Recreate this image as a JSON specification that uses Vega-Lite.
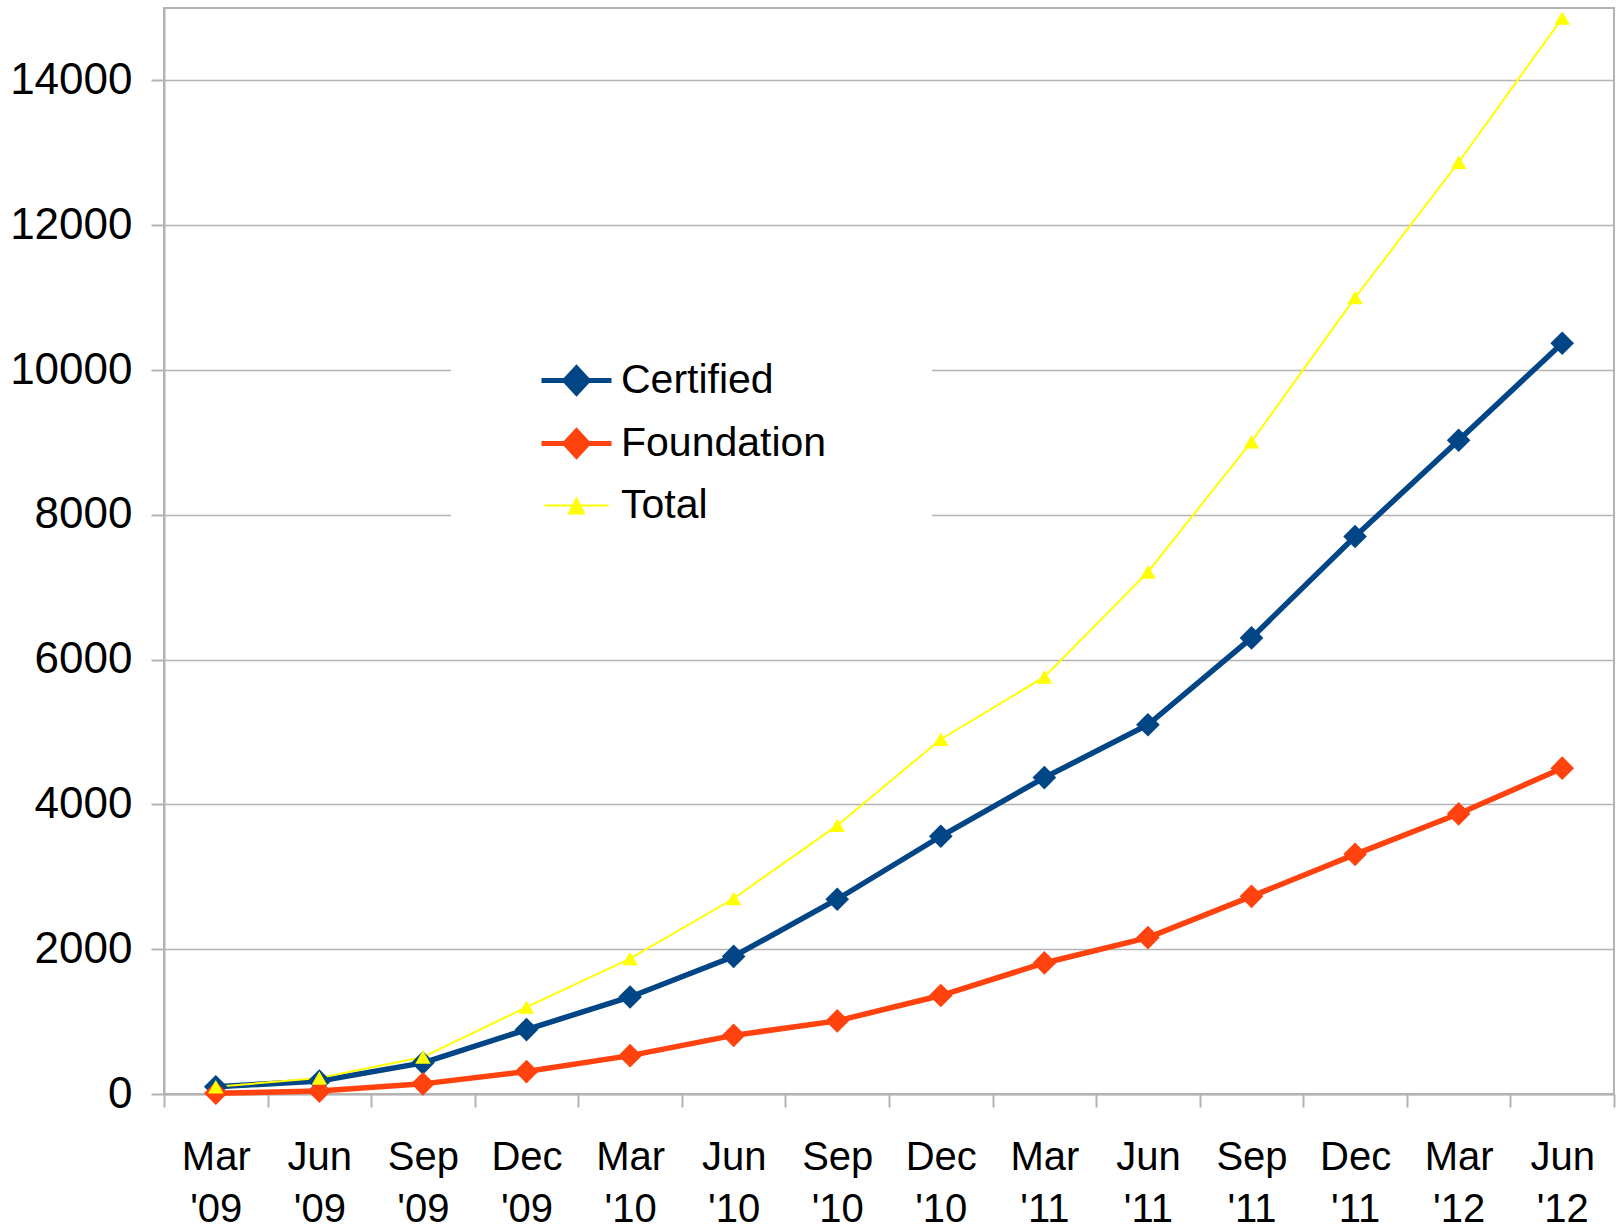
{
  "$schema": "https://vega.github.io/schema/vega-lite/v6.json",
  "width": 1450,
  "height": 1086,
  "autosize": {"type": "none"},
  "padding": {"left": 164, "top": 8, "right": 7, "bottom": 136},
  "background": "white",
  "config": {
    "view": {"stroke": "#b3b3b3", "strokeWidth": 2},
    "font": "Liberation Sans"
  },
  "data": {
    "values": [
      {"p": "Mar '09", "s": "Certified", "v": 100},
      {"p": "Jun '09", "s": "Certified", "v": 180},
      {"p": "Sep '09", "s": "Certified", "v": 430},
      {"p": "Dec '09", "s": "Certified", "v": 890},
      {"p": "Mar '10", "s": "Certified", "v": 1340},
      {"p": "Jun '10", "s": "Certified", "v": 1900},
      {"p": "Sep '10", "s": "Certified", "v": 2690},
      {"p": "Dec '10", "s": "Certified", "v": 3560},
      {"p": "Mar '11", "s": "Certified", "v": 4370},
      {"p": "Jun '11", "s": "Certified", "v": 5100},
      {"p": "Sep '11", "s": "Certified", "v": 6300},
      {"p": "Dec '11", "s": "Certified", "v": 7700},
      {"p": "Mar '12", "s": "Certified", "v": 9030},
      {"p": "Jun '12", "s": "Certified", "v": 10370},
      {"p": "Mar '09", "s": "Foundation", "v": 10},
      {"p": "Jun '09", "s": "Foundation", "v": 40},
      {"p": "Sep '09", "s": "Foundation", "v": 140},
      {"p": "Dec '09", "s": "Foundation", "v": 310},
      {"p": "Mar '10", "s": "Foundation", "v": 530},
      {"p": "Jun '10", "s": "Foundation", "v": 810},
      {"p": "Sep '10", "s": "Foundation", "v": 1010},
      {"p": "Dec '10", "s": "Foundation", "v": 1360},
      {"p": "Mar '11", "s": "Foundation", "v": 1810},
      {"p": "Jun '11", "s": "Foundation", "v": 2160},
      {"p": "Sep '11", "s": "Foundation", "v": 2730},
      {"p": "Dec '11", "s": "Foundation", "v": 3310},
      {"p": "Mar '12", "s": "Foundation", "v": 3870},
      {"p": "Jun '12", "s": "Foundation", "v": 4500},
      {"p": "Mar '09", "s": "Total", "v": 100},
      {"p": "Jun '09", "s": "Total", "v": 220},
      {"p": "Sep '09", "s": "Total", "v": 510},
      {"p": "Dec '09", "s": "Total", "v": 1200},
      {"p": "Mar '10", "s": "Total", "v": 1870},
      {"p": "Jun '10", "s": "Total", "v": 2700},
      {"p": "Sep '10", "s": "Total", "v": 3710},
      {"p": "Dec '10", "s": "Total", "v": 4900},
      {"p": "Mar '11", "s": "Total", "v": 5760},
      {"p": "Jun '11", "s": "Total", "v": 7210},
      {"p": "Sep '11", "s": "Total", "v": 9010},
      {"p": "Dec '11", "s": "Total", "v": 11000},
      {"p": "Mar '12", "s": "Total", "v": 12870},
      {"p": "Jun '12", "s": "Total", "v": 14860}
    ]
  },
  "encoding": {
    "x": {
      "field": "p",
      "type": "ordinal",
      "sort": ["Mar '09", "Jun '09", "Sep '09", "Dec '09", "Mar '10", "Jun '10", "Sep '10", "Dec '10", "Mar '11", "Jun '11", "Sep '11", "Dec '11", "Mar '12", "Jun '12"],
      "bandPosition": 0.5,
      "scale": {"type": "band", "paddingInner": 0, "paddingOuter": 0},
      "axis": {
        "title": null,
        "labelAngle": 0,
        "labelExpr": "split(datum.label, ' ')",
        "labelFont": "Liberation Sans",
        "labelFontSize": 40,
        "labelColor": "black",
        "labelLineHeight": 52,
        "labelBaseline": "top",
        "labelPadding": 30,
        "tickBand": "extent",
        "tickSize": 13,
        "tickColor": "#b3b3b3",
        "tickWidth": 2,
        "domainColor": "#b3b3b3",
        "domainWidth": 2,
        "grid": false
      }
    },
    "y": {
      "field": "v",
      "type": "quantitative",
      "scale": {"domain": [0, 15000], "nice": false},
      "axis": {
        "title": null,
        "values": [0, 2000, 4000, 6000, 8000, 10000, 12000, 14000],
        "format": "d",
        "labelFont": "Liberation Sans",
        "labelFontSize": 44,
        "labelColor": "black",
        "labelPadding": 19,
        "tickSize": 13,
        "tickColor": "#b3b3b3",
        "tickWidth": 2,
        "domainColor": "#b3b3b3",
        "domainWidth": 2,
        "grid": true,
        "gridColor": "#b3b3b3",
        "gridWidth": 1.5
      }
    },
    "color": {
      "field": "s",
      "type": "nominal",
      "scale": {"domain": ["Certified", "Foundation", "Total"], "range": ["#004586", "#ff420e", "#ffff00"]},
      "legend": {
        "title": null,
        "orient": "none",
        "legendX": 287,
        "legendY": 247,
        "fillColor": "white",
        "strokeColor": null,
        "padding": 105,
        "labelFont": "Liberation Sans",
        "labelFontSize": 41,
        "labelColor": "black",
        "labelLimit": 500,
        "labelOffset": 24,
        "rowPadding": 18,
        "symbolSize": 1600,
        "symbolStrokeWidth": 5,
        "symbolOpacity": 1,
        "symbolType": "M-1.75,0H1.75M0,-0.625L0.58,0L0,0.625L-0.58,0Z",
        "encode": {
          "symbols": {
            "update": {
              "fill": {"signal": "scale('color', datum.value)"},
              "stroke": {"signal": "scale('color', datum.value)"},
              "shape": {"signal": "datum.value === 'Total' ? 'M-1.6,0H1.6M0,-0.35L0.375,0.4L-0.375,0.4Z' : 'M-1.75,0H1.75M0,-0.625L0.58,0L0,0.625L-0.58,0Z'"},
              "strokeWidth": {"signal": "datum.value === 'Total' ? 2 : 5"},
              "opacity": {"value": 1}
            }
          }
        }
      }
    }
  },
  "layer": [
    {
      "mark": {"type": "line"},
      "encoding": {
        "strokeWidth": {"condition": {"test": "datum.s === 'Total'", "value": 2}, "value": 5.5}
      }
    },
    {
      "mark": {"type": "point", "filled": true, "opacity": 1, "strokeWidth": 0},
      "encoding": {
        "shape": {"condition": {"test": "datum.s === 'Total'", "value": "triangle-up"}, "value": "diamond"},
        "size": {"condition": {"test": "datum.s === 'Total'", "value": 240}, "value": 560}
      }
    }
  ]
}
